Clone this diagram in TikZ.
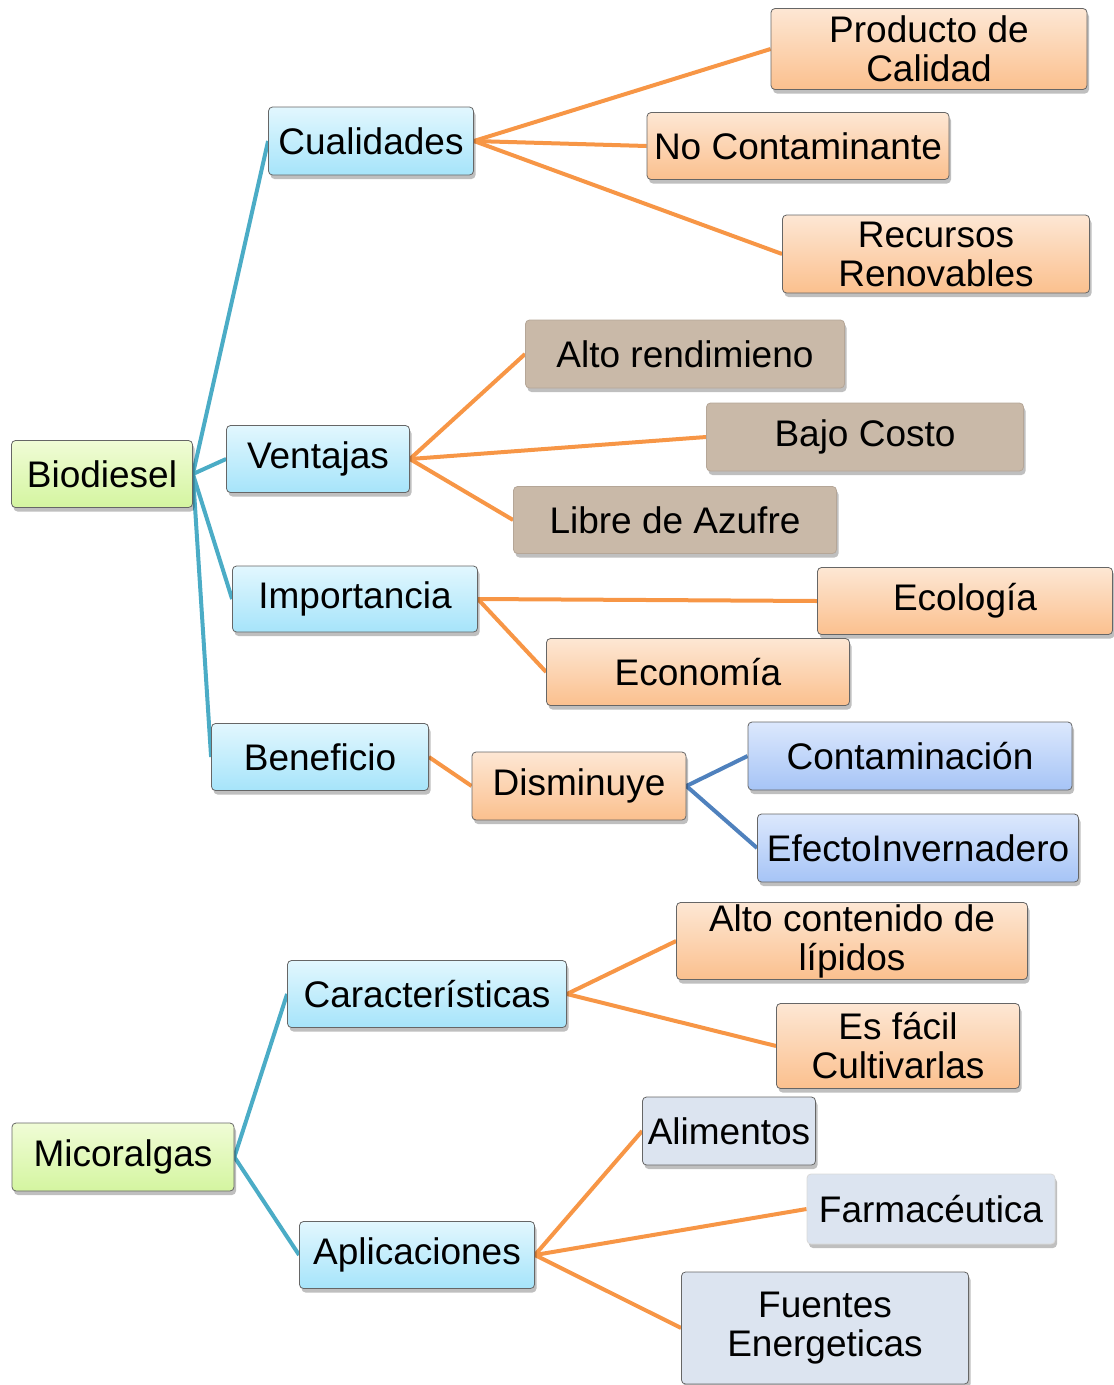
\documentclass[tikz,border=0pt]{standalone}
\usepackage{fontspec}
\setmainfont{Liberation Sans}
\usepackage{tikz}
\usetikzlibrary{shadows,backgrounds}
\definecolor{turq}{RGB}{75,172,198}
\definecolor{naranja}{RGB}{247,150,70}
\definecolor{azul}{RGB}{79,129,189}
\definecolor{cyanA}{RGB}{226,247,254}
\definecolor{cyanB}{RGB}{166,228,250}
\definecolor{verdeA}{RGB}{240,252,214}
\definecolor{verdeB}{RGB}{212,245,160}
\definecolor{naranjaA}{RGB}{253,231,212}
\definecolor{naranjaB}{RGB}{251,192,142}
\definecolor{tostado}{RGB}{201,185,168}
\definecolor{lilaA}{RGB}{220,232,253}
\definecolor{lilaB}{RGB}{166,196,246}
\definecolor{grisazul}{RGB}{220,228,240}
\tikzset{
  caja/.style={rectangle,rounded corners=4pt,draw=gray!80!black,line width=0.8pt,inner sep=0pt,
    align=center,font=\fontsize{37}{39}\selectfont,
    drop shadow={shadow xshift=2pt,shadow yshift=-4pt,opacity=0.25,fill=black}},
  raiz/.style={caja,top color=verdeA,bottom color=verdeB},
  rama/.style={caja,top color=cyanA,bottom color=cyanB},
  hojan/.style={caja,top color=naranjaA,bottom color=naranjaB},
  hojat/.style={caja,fill=tostado,draw=tostado!90!black},
  hojal/.style={caja,top color=lilaA,bottom color=lilaB},
  hojag/.style={caja,fill=grisazul},
  lturq/.style={turq,line width=4pt},
  lnar/.style={naranja,line width=4pt},
  lazul/.style={azul,line width=4pt}
}
\begin{document}
\begin{tikzpicture}[x=1pt,y=-1pt]
\useasboundingbox (0,0) rectangle (1114,1385);
\node[raiz,minimum width=181,minimum height=67] (bio) at (102,474) {Biodiesel};
\node[rama,minimum width=205,minimum height=68] (cual) at (371,141) {Cualidades};
\node[rama,minimum width=183,minimum height=67] (vent) at (318,459) {Ventajas};
\node[rama,minimum width=245,minimum height=66] (imp) at (355,599) {Importancia};
\node[rama,minimum width=217,minimum height=67] (ben) at (320,757) {Beneficio};
\node[hojan,minimum width=316,minimum height=81] (prod) at (929,49) {Producto de\\Calidad};
\node[hojan,minimum width=302,minimum height=67] (noc) at (798,146) {No Contaminante};
\node[hojan,minimum width=307,minimum height=78] (rec) at (936,254) {Recursos\\Renovables};
\node[hojat,minimum width=319,minimum height=68] (alto) at (685,354) {Alto rendimieno};
\node[hojat,minimum width=317,minimum height=68] (bajo) at (865,437) {Bajo Costo};
\node[hojat,minimum width=323,minimum height=67] (libre) at (675,520) {Libre de Azufre};
\node[hojan,minimum width=295,minimum height=67] (eco) at (965,601) {Ecología};
\node[hojan,minimum width=303,minimum height=67] (econ) at (698,672) {Economía};
\node[hojan,minimum width=214,minimum height=68] (dism) at (579,786) {Disminuye};
\node[hojal,minimum width=324,minimum height=68] (cont) at (910,756) {Contaminación};
\node[hojal,minimum width=321,minimum height=68] (efec) at (918,848) {EfectoInvernadero};
\node[raiz,minimum width=222,minimum height=68] (mic) at (123,1157) {Micoralgas};
\node[rama,minimum width=279,minimum height=67] (car) at (427,994) {Características};
\node[rama,minimum width=235,minimum height=67] (apl) at (417,1255) {Aplicaciones};
\node[hojan,minimum width=351,minimum height=77] (lip) at (852,941) {Alto contenido de\\lípidos};
\node[hojan,minimum width=243,minimum height=85] (facil) at (898,1046) {Es fácil\\Cultivarlas};
\node[hojag,minimum width=173,minimum height=68] (alim) at (729,1131) {Alimentos};
\node[hojag,minimum width=248,minimum height=70,draw=gray!30] (farm) at (931,1209) {Farmacéutica};
\node[hojag,minimum width=287,minimum height=112] (fuen) at (825,1328) {Fuentes\\Energeticas};
\begin{scope}[on background layer]
\foreach \h in {cual,vent,imp,ben}{\draw[lturq] (bio.east) -- (\h.west);}
\foreach \h in {prod,noc,rec}{\draw[lnar] (cual.east) -- (\h.west);}
\foreach \h in {alto,bajo,libre}{\draw[lnar] (vent.east) -- (\h.west);}
\foreach \h in {eco,econ}{\draw[lnar] (imp.east) -- (\h.west);}
\draw[lnar] (ben.east) -- (dism.west);
\foreach \h in {cont,efec}{\draw[lazul] (dism.east) -- (\h.west);}
\foreach \h in {car,apl}{\draw[lturq] (mic.east) -- (\h.west);}
\foreach \h in {lip,facil}{\draw[lnar] (car.east) -- (\h.west);}
\foreach \h in {alim,farm,fuen}{\draw[lnar] (apl.east) -- (\h.west);}
\end{scope}
\end{tikzpicture}
\end{document}
